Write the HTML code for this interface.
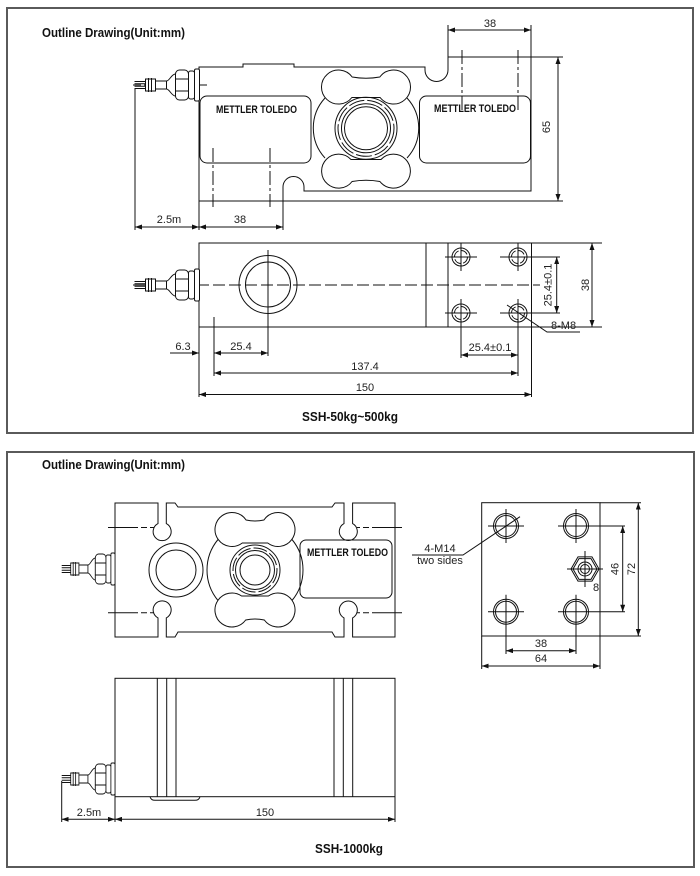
<!DOCTYPE html>
<html>
<head>
<meta charset="utf-8">
<style>
html,body{margin:0;padding:0;background:#fff;}
svg{display:block;}
text{font-family:"Liberation Sans",Arial,sans-serif;fill:#222;}
.t{font-size:11px;}
.b{font-weight:bold;fill:#111;}
</style>
</head>
<body>
<svg width="700" height="876" viewBox="0 0 700 876" xmlns="http://www.w3.org/2000/svg">
<defs>
  <marker id="ar" viewBox="0 0 7 5" refX="7" refY="2.5" markerWidth="7" markerHeight="5" markerUnits="userSpaceOnUse" orient="auto-start-reverse">
    <path d="M0,0 L7,2.5 L0,5 z" fill="#111"/>
  </marker>
  <g id="cable" fill="#fff" stroke="#111" stroke-width="1">
    <path d="M-65,-3.5H-54 M-65,-1.2H-54 M-65,1.2H-54 M-65,3.5H-54" fill="none"/>
    <rect x="-54" y="-6" width="10" height="12"/>
    <path d="M-51,-7V7 M-48,-7V7" fill="none"/>
    <rect x="-44" y="-4" width="11" height="8"/>
    <path d="M-33,-4 C-30,-4 -28,-11 -24,-11 L-24,11 C-28,11 -30,4 -33,4 Z"/>
    <rect x="-24" y="-15" width="13" height="30" rx="4"/>
    <path d="M-24,-6H-11 M-24,6H-11" fill="none"/>
    <rect x="-11" y="-14" width="6" height="28" rx="2"/>
    <rect x="-5" y="-16" width="5" height="32" rx="1.5"/>
  </g>
  <g id="hole8" fill="none" stroke="#111" stroke-width="1">
    <circle r="9"/>
    <circle r="6.5" stroke-dasharray="8 2"/>
    <path d="M-16,0H16 M0,-14V14"/>
  </g>
  <g id="hole14" fill="none" stroke="#111" stroke-width="1">
    <circle r="12.5"/>
    <circle r="10.5"/>
    <path d="M-18,0H18 M0,-17V17"/>
  </g>
</defs>

<!-- Panel borders -->
<rect x="7" y="8" width="686" height="425" fill="none" stroke="#5a5a5a" stroke-width="2"/>
<rect x="7" y="452" width="687" height="415" fill="none" stroke="#5a5a5a" stroke-width="2"/>

<!-- ============ TOP PANEL ============ -->
<text class="b" x="42" y="37" font-size="13" textLength="143" lengthAdjust="spacingAndGlyphs">Outline Drawing(Unit:mm)</text>

<g fill="none" stroke="#111" stroke-width="1">
  <path d="M199,67 L243,67 L243,64 L294,64 L294,67 L425,67 L425,70 A11.5 11.5 0 0 0 448,70 L448,57 L531,57 L531,191 L304,191 L304,187 A10.5 10.5 0 0 0 283,187 L283,201 L199,201 Z"/>
  <rect x="200" y="96" width="111" height="67" rx="7"/>
  <rect x="419.5" y="96" width="111" height="67" rx="7"/>
  <path d="M352.2,77 Q366,79.5 379.8,77 A17 17 0 1 1 380.1,97.5 L351.9,97.5 A17 17 0 1 1 352.2,77 Z"/>
  <path d="M351,159.5 L381,159.5 A17 17 0 1 1 379.9,181.5 Q366,179 352.1,181.5 A17 17 0 1 1 351,159.5 Z"/>
  <path d="M325,98 A44.3 44.3 0 0 0 325,158"/>
  <path d="M407,98 A44.3 44.3 0 0 1 407,158"/>
  <circle cx="366" cy="128.3" r="31"/>
  <circle cx="366" cy="128.3" r="28" stroke-dasharray="16 3"/>
  <circle cx="366" cy="128.3" r="24.5"/>
  <circle cx="366" cy="128.3" r="21.5"/>
  <path d="M213,148V207 M270,148V207" stroke-dasharray="14 3 3 3"/>
  <path d="M462,50V110 M518,50V110" stroke-dasharray="14 3 3 3"/>
  <path d="M133,85H208" stroke-dasharray="8 3"/>
  <path d="M283,201H563 M531,57H563 M135,88V230 M199,201V230 M283,201V230 M448,25V57 M531,25V57"/>
</g>
<use href="#cable" x="199.5" y="85"/>
<text class="b" x="216" y="113" font-size="11" textLength="81" lengthAdjust="spacingAndGlyphs">METTLER TOLEDO</text>
<text class="b" x="434" y="112" font-size="11" textLength="82" lengthAdjust="spacingAndGlyphs">METTLER TOLEDO</text>

<g stroke="#111" stroke-width="1" marker-start="url(#ar)" marker-end="url(#ar)">
  <line x1="135" y1="227" x2="199" y2="227"/>
  <line x1="199" y1="227" x2="283" y2="227"/>
  <line x1="448" y1="30" x2="531" y2="30"/>
  <line x1="558" y1="57" x2="558" y2="201"/>
</g>
<text class="t" x="169" y="223" text-anchor="middle">2.5m</text>
<text class="t" x="240" y="223" text-anchor="middle">38</text>
<text class="t" x="490" y="27" text-anchor="middle">38</text>
<text class="t" transform="translate(550,127) rotate(-90)" text-anchor="middle">65</text>

<g fill="none" stroke="#111" stroke-width="1">
  <rect x="199" y="243" width="332.5" height="84"/>
  <path d="M426,243V327 M448,243V327"/>
  <path d="M133,285H540" stroke-dasharray="12 4"/>
  <circle cx="268" cy="284.5" r="29"/>
  <circle cx="268" cy="284.5" r="22.5"/>
  <path d="M268,250V356"/>
  <path d="M531.5,243H602 M531.5,327H602 M500,257H560 M500,313H560"/>
  <path d="M199,327V397 M531.5,327V397 M214,317V376 M518,313V376 M461,313V358"/>
  <path d="M507,305 L547,332 L580,332"/>
</g>
<use href="#hole8" x="461" y="257"/>
<use href="#hole8" x="518" y="257"/>
<use href="#hole8" x="461" y="313"/>
<use href="#hole8" x="518" y="313"/>
<use href="#cable" x="199.5" y="285"/>

<g stroke="#111" stroke-width="1" marker-start="url(#ar)" marker-end="url(#ar)">
  <line x1="556.7" y1="257" x2="556.7" y2="313"/>
  <line x1="592" y1="243" x2="592" y2="327"/>
  <line x1="214" y1="353" x2="268" y2="353"/>
  <line x1="214" y1="373" x2="518" y2="373"/>
  <line x1="199" y1="394.5" x2="531.5" y2="394.5"/>
  <line x1="461" y1="355" x2="518" y2="355"/>
</g>
<line x1="170" y1="353" x2="199" y2="353" stroke="#111" stroke-width="1" marker-end="url(#ar)"/>
<text class="t" transform="translate(548.5,285) rotate(-90)" text-anchor="middle" dominant-baseline="central">25.4±0.1</text>
<text class="t" transform="translate(586,285) rotate(-90)" text-anchor="middle" dominant-baseline="central">38</text>
<text class="t" x="551" y="329">8-M8</text>
<text class="t" x="183" y="350" text-anchor="middle">6.3</text>
<text class="t" x="241" y="350" text-anchor="middle">25.4</text>
<text class="t" x="365" y="370" text-anchor="middle">137.4</text>
<text class="t" x="365" y="391" text-anchor="middle">150</text>
<text class="t" x="490" y="351" text-anchor="middle">25.4±0.1</text>
<text class="b" x="302" y="421" font-size="13" textLength="96" lengthAdjust="spacingAndGlyphs">SSH-50kg~500kg</text>

<!-- ============ BOTTOM PANEL ============ -->
<text class="b" x="42" y="469" font-size="13" textLength="143" lengthAdjust="spacingAndGlyphs">Outline Drawing(Unit:mm)</text>

<g fill="none" stroke="#111" stroke-width="1">
  <path d="M115,503 L158,503 L158,523.6 A9 9 0 1 0 166.3,523.6 L166.3,503 L175,503 L178,507 L332,507 L335,503 L344,503 L344,523.6 A9 9 0 1 0 352.6,523.6 L352.6,503 L395,503 L395,637 L352.6,637 L352.6,617.9 A9 9 0 1 0 344,617.9 L344,637 L335,637 L332,632 L178,632 L175,637 L166.3,637 L166.3,617.9 A9 9 0 1 0 158,617.9 L158,637 L115,637 Z"/>
  <path d="M108,527.5H154" stroke-dasharray="30 3 6 3 6"/>
  <path d="M108,612.7H154" stroke-dasharray="30 3 6 3 6"/>
  <path d="M402,527.5H357" stroke-dasharray="30 3 6 3 6"/>
  <path d="M402,612.7H357" stroke-dasharray="30 3 6 3 6"/>
  <circle cx="176" cy="570" r="27"/>
  <circle cx="176" cy="570" r="20"/>
  <path d="M246.1,520 Q255,522 263.9,520 A17 17 0 1 1 267.7,543 L242.3,543 A17 17 0 1 1 246.1,520 Z"/>
  <path d="M241.6,596 L268.4,596 A17 17 0 1 1 264.3,620 Q255,618 245.7,620 A17 17 0 1 1 241.6,596 Z"/>
  <path d="M218,539.5 A47.8 47.8 0 0 0 218,600.5"/>
  <path d="M292,539.5 A47.8 47.8 0 0 1 292,600.5"/>
  <circle cx="255" cy="570" r="25"/>
  <circle cx="255" cy="570" r="22" stroke-dasharray="14 3"/>
  <circle cx="255" cy="570" r="19.5"/>
  <circle cx="255" cy="570" r="15"/>
  <rect x="300" y="540" width="92" height="58" rx="6"/>
</g>
<use href="#cable" transform="translate(115,569) scale(0.82,1)"/>
<text class="b" x="307" y="556" font-size="11" textLength="81" lengthAdjust="spacingAndGlyphs">METTLER TOLEDO</text>

<g fill="none" stroke="#111" stroke-width="1">
  <rect x="481.7" y="502.7" width="118.3" height="133.3"/>
  <path d="M600,502.7H641 M600,636H641 M481.7,636V669 M600,636V669 M594,526H625 M594,611.7H625 M506,611.7V654 M576,611.7V654"/>
  <polygon points="571,569 578,556.9 592,556.9 599,569 592,581.1 578,581.1"/>
  <polygon points="573,569 579,558.6 591,558.6 597,569 591,579.4 579,579.4"/>
  <circle cx="585" cy="569" r="7"/>
  <circle cx="585" cy="569" r="4.5"/>
  <path d="M567,569H603 M585,551V587"/>
  <path d="M412,555 L463,555 L520,516.7"/>
</g>
<use href="#hole14" x="506" y="526"/>
<use href="#hole14" x="576" y="526"/>
<use href="#hole14" x="506" y="611.7"/>
<use href="#hole14" x="576" y="611.7"/>
<g stroke="#111" stroke-width="1" marker-start="url(#ar)" marker-end="url(#ar)">
  <line x1="622.7" y1="526" x2="622.7" y2="611.7"/>
  <line x1="638.3" y1="502.7" x2="638.3" y2="636"/>
  <line x1="506" y1="650.7" x2="576" y2="650.7"/>
  <line x1="481.7" y1="666" x2="600" y2="666"/>
</g>
<text class="t" transform="translate(615.5,569) rotate(-90)" text-anchor="middle" dominant-baseline="central">46</text>
<text class="t" transform="translate(632,569) rotate(-90)" text-anchor="middle" dominant-baseline="central">72</text>
<text class="t" x="593" y="591">8</text>
<text class="t" x="541" y="647" text-anchor="middle">38</text>
<text class="t" x="541" y="662" text-anchor="middle">64</text>
<text class="t" x="440" y="552" text-anchor="middle">4-M14</text>
<text class="t" x="440" y="564" text-anchor="middle" font-size="10.5">two sides</text>

<g fill="none" stroke="#111" stroke-width="1">
  <rect x="115" y="678.3" width="280" height="118.4"/>
  <path d="M157.3,678.3V796.7 M166.7,678.3V796.7 M176,678.3V796.7 M334,678.3V796.7 M343.3,678.3V796.7 M352.7,678.3V796.7"/>
  <path d="M150,796.7 Q151,800.3 155,800.3 L195,800.3 Q199,800.3 200,796.7"/>
  <path d="M61.7,781V822 M115,796.7V822 M395,796.7V822"/>
</g>
<use href="#cable" transform="translate(115,779) scale(0.82,1)"/>
<g stroke="#111" stroke-width="1" marker-start="url(#ar)" marker-end="url(#ar)">
  <line x1="61.7" y1="819.3" x2="115" y2="819.3"/>
  <line x1="115" y1="819.3" x2="395" y2="819.3"/>
</g>
<text class="t" x="89" y="816" text-anchor="middle">2.5m</text>
<text class="t" x="265" y="816" text-anchor="middle">150</text>
<text class="b" x="315" y="853" font-size="13" textLength="68" lengthAdjust="spacingAndGlyphs">SSH-1000kg</text>
</svg>
</body>
</html>
